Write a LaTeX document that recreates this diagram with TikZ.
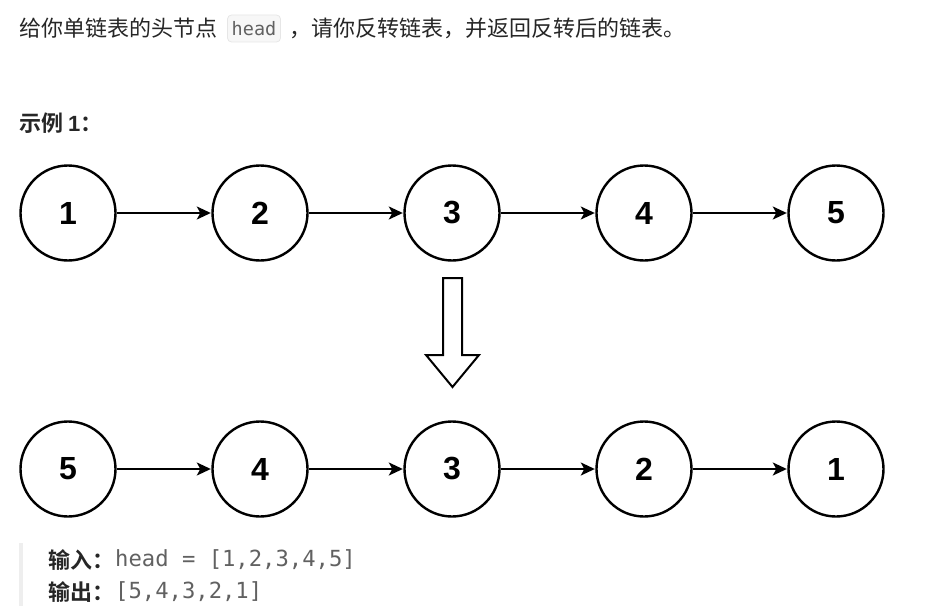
\documentclass[tikz,border=0pt]{standalone}
\usepackage{fontspec}
\setmainfont{Liberation Sans}
\setmonofont{DejaVu Sans Mono}
\newfontfamily\cjk{Noto Sans CJK SC}[BoldFont={Noto Sans CJK SC Bold}]
\usetikzlibrary{arrows.meta}
\definecolor{txt}{HTML}{262626}
\definecolor{codegray}{HTML}{616161}
\definecolor{codebg}{HTML}{F7F7F7}
\definecolor{codeborder}{HTML}{E6E6E6}
\definecolor{barcol}{HTML}{EEEEEE}
\tikzset{
  lnode/.style={circle, draw=black, line width=2.4pt, minimum size=95pt, inner sep=0pt,
    font=\fontsize{32}{36}\selectfont\bfseries},
  link/.style={line width=2pt, -{Stealth[length=14pt,width=13pt,inset=3.5pt]}, shorten >=0.5pt},
  cntext/.style={inner sep=0pt, anchor=west, text=txt, font=\cjk\fontsize{22}{26}\selectfont},
  cnbold/.style={cntext, font=\cjk\bfseries\fontsize{22}{26}\selectfont},
  codetext/.style={inner sep=0pt, anchor=west, text=codegray, font=\ttfamily\fontsize{22.2}{26}\selectfont},
}
\begin{document}
\begin{tikzpicture}[x=1pt,y=-1pt]
\useasboundingbox (0,0) rectangle (931,615);
% first line
\node[cntext] (l1a) at (19,28) {给你单链表的头节点};
\node[draw=codeborder, fill=codebg, rounded corners=4pt, line width=0.8pt,
      minimum width=53pt, minimum height=27pt, inner sep=0pt, text=codegray,
      font=\ttfamily\fontsize{18.5}{22}\selectfont] (code) at (254,28.5) {head};
\node[cntext] (l1b) at (289,28) {，请你反转链表，并返回反转后的链表。};
% example title
\node[cnbold] (ex) at (19,123) {示例 {\fontspec{Liberation Sans}\bfseries 1}：};
% top row
\foreach \i/\x in {1/68,2/260,3/452,4/644,5/836}{
  \node[lnode] (t\i) at (\x,213) {\i};
}
\foreach \a/\b in {1/2,2/3,3/4,4/5}{
  \draw[link] (t\a) -- (t\b);
}
% hollow arrow
\draw[line width=2pt, line join=miter] (443,278) -- (462,278) -- (462,355) -- (479,355)
  -- (452.5,387) -- (426,355) -- (443,355) -- cycle;
% bottom row
\foreach \i/\v/\x in {1/5/68,2/4/260,3/3/452,4/2/644,5/1/836}{
  \node[lnode] (b\i) at (\x,469) {\v};
}
\foreach \a/\b in {1/2,2/3,3/4,4/5}{
  \draw[link] (b\a) -- (b\b);
}
% quote bar
\fill[barcol] (19,543) rectangle (23,606);
\node[cnbold] (in) at (48,560) {输入：};
\node[codetext] (inv) at (115,560) {head = [1,2,3,4,5]};
\node[cnbold] (out) at (48,592) {输出：};
\node[codetext] (outv) at (115,592) {[5,4,3,2,1]};
\end{tikzpicture}
\end{document}
